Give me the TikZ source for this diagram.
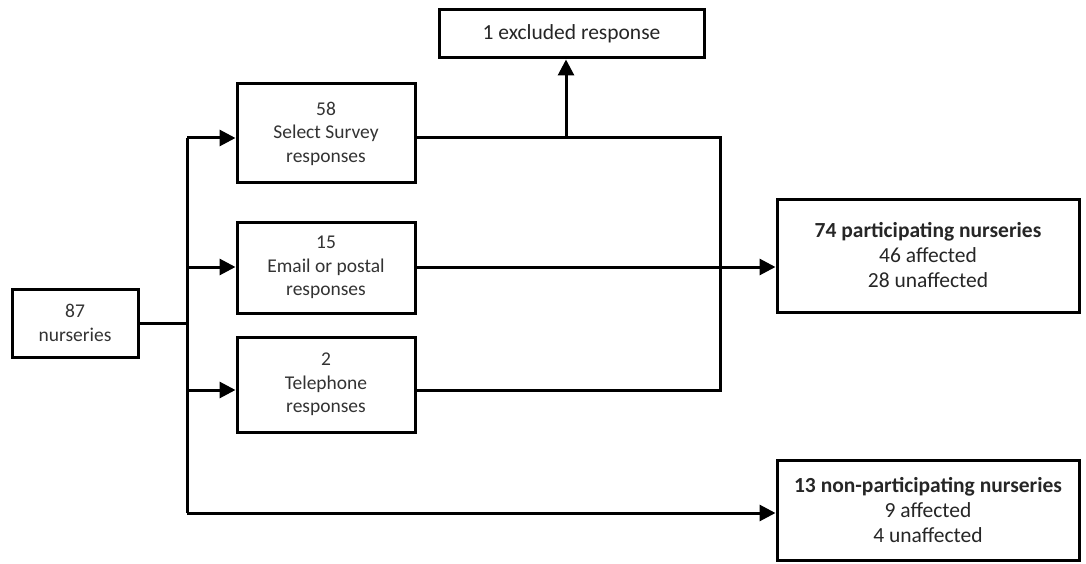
\documentclass[tikz,border=0pt]{standalone}
\usepackage{fontspec}
\setmainfont{Carlito}
\usetikzlibrary{arrows.meta}
\begin{document}
\begin{tikzpicture}[x=1pt,y=1pt,
  box/.style={draw=black,line width=3pt,rectangle,inner sep=0pt,align=center,
    font=\fontsize{21.5}{25}\selectfont,text=black!85},
  smallbox/.style={box,font=\fontsize{19.5}{23.5}\selectfont,text=black!80},
  link/.style={draw=black,line width=3pt},
  arr/.style={link,-{Triangle[length=16pt,width=16pt]}}]
\useasboundingbox (0,0) rectangle (1086,-564);
\fill[white] (0,0) rectangle (1086,-564);
\node[smallbox,minimum width=126pt,minimum height=68pt] (A) at (75,-323) {87\\nurseries};
\node[smallbox,minimum width=178pt,minimum height=99pt] (S) at (326,-133.5) {58\\Select Survey\\responses};
\node[smallbox,minimum width=178pt,minimum height=91pt] (E) at (326,-267.5) {15\\Email or postal\\responses};
\node[smallbox,minimum width=178pt,minimum height=95pt] (T) at (326,-384.5) {2\\Telephone\\responses};
\node[box,minimum width=265pt,minimum height=48pt] (X) at (571.5,-34) {1 excluded response};
\node[box,minimum width=302pt,minimum height=113pt] (P) at (928,-255.5) {\textbf{74 participating nurseries}\\46 affected\\28 unaffected};
\node[box,minimum width=302pt,minimum height=100pt] (N) at (928,-510) {\textbf{13 non-participating nurseries}\\9 affected\\4 unaffected};
% trunk coordinates
\coordinate (jA) at (187,-323);
\coordinate (tS) at (187,-138);
\coordinate (tE) at (187,-267);
\coordinate (tT) at (187,-390);
\coordinate (tN) at (187,-513);
\coordinate (cS) at (720,-138);
\coordinate (cT) at (720,-390);
\coordinate (xS) at (566,-138);
% connectors
\draw[link] (A.east |- jA) -- (jA);
\draw[link] (tS) -- (tN);
\draw[arr] (tS) -- (S.west |- tS);
\draw[arr] (tE) -- (E.west |- tE);
\draw[arr] (tT) -- (T.west |- tT);
\draw[arr] (tN) -- (N.west |- tN);
\draw[link] (S.east |- cS) -- (cS) -- (cT) -- (T.east |- cT);
\draw[arr] (xS) -- (xS |- X.south);
\draw[arr] (E.east |- tE) -- (P.west |- tE);
\end{tikzpicture}
\end{document}
